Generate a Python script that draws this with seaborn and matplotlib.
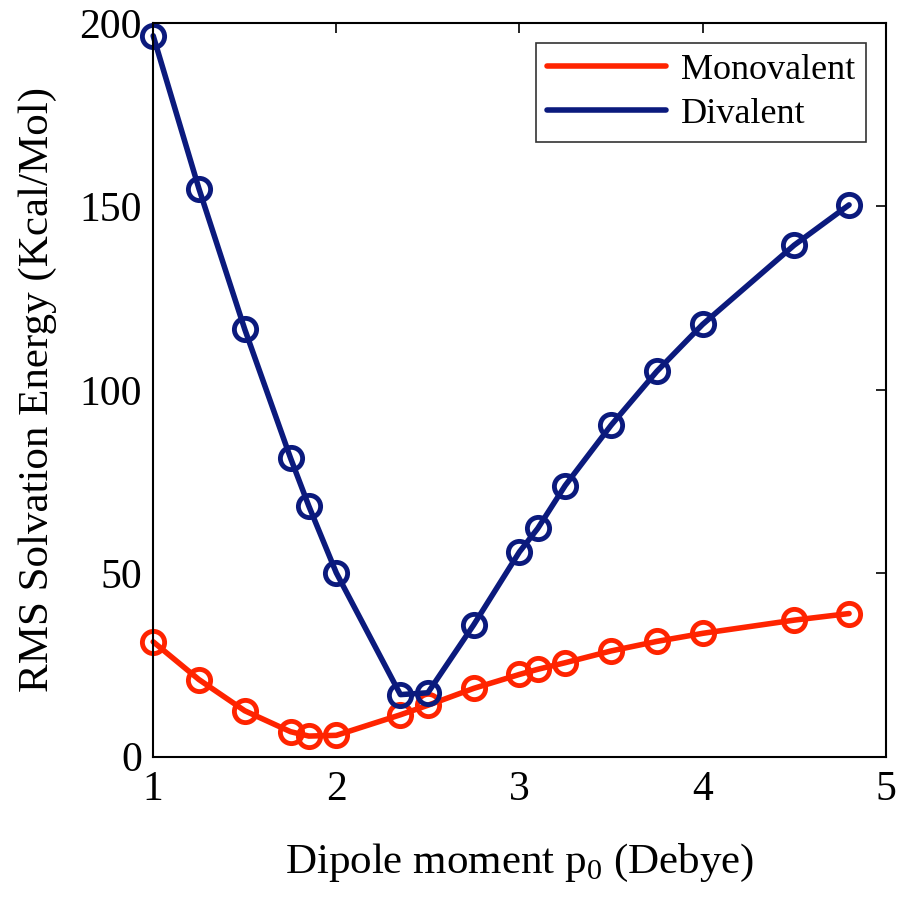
import pandas as pd
import matplotlib
matplotlib.use('Agg')
import matplotlib.pyplot as plt
import seaborn as sns
from matplotlib.lines import Line2D

sns.set_style('white')
plt.rcParams['font.family'] = ['Liberation Serif', 'DejaVu Serif']
plt.rcParams['mathtext.fontset'] = 'custom'
plt.rcParams['mathtext.rm'] = 'Liberation Serif'
for k in ['text.color', 'axes.labelcolor', 'xtick.color', 'ytick.color']:
    plt.rcParams[k] = 'black'

# data
dipole = [1.0, 1.25, 1.5, 1.75, 1.85, 2.0, 2.35, 2.5, 2.75, 3.0, 3.1, 3.25,
          3.5, 3.75, 4.0, 4.5, 4.8]
monovalent = [31.3, 21.0, 12.5, 6.8, 5.6, 5.8, 11.4, 14.0, 18.6, 22.4, 23.8,
              25.6, 28.8, 31.4, 33.6, 37.2, 39.0]
divalent = [196.5, 154.8, 116.5, 81.4, 68.3, 50.1, 16.9, 17.4, 35.9, 55.8,
            62.2, 73.9, 90.3, 105.0, 117.8, 139.4, 150.4]
series_names = ['Monovalent', 'Divalent']
colors = {'Monovalent': '#ff2400', 'Divalent': '#0b1a7d'}

df = pd.DataFrame({'p0': dipole * 2,
                   'rms': monovalent + divalent,
                   'kind': ['Monovalent'] * len(dipole) + ['Divalent'] * len(dipole)})

f = plt.figure(figsize=(9.01, 9.16), dpi=100)
ax = f.add_axes([0.170, 0.174, 0.813, 0.801])

for name in series_names:
    c = colors[name]
    sns.lineplot(data=df[df['kind'] == name], x='p0', y='rms', ax=ax,
                 color=c, lw=4.0, marker='o', markersize=16,
                 mfc='none', mec=c, mew=3.5, clip_on=False)

ax.set_xlim(1, 5)
ax.set_ylim(0, 200)
ax.set_xticks([1, 2, 3, 4, 5])
ax.set_yticks([0, 50, 100, 150, 200])
ax.tick_params(direction='in', length=7, width=1.2, top=True, right=True,
               labelsize=30)
ax.tick_params(axis='y', pad=8)
ax.tick_params(axis='x', pad=10)
for s in ax.spines.values():
    s.set_linewidth(1.5)
    s.set_color('black')

ax.set_xlabel('Dipole moment p$_0$ (Debye)', fontsize=31, labelpad=24)
ax.set_ylabel('RMS Solvation Energy (Kcal/Mol)', fontsize=31, labelpad=16)

handles = [Line2D([], [], color=colors[n], lw=4.0) for n in series_names]
leg = ax.legend(handles, series_names, loc='upper right', fontsize=26,
                frameon=True, fancybox=False, edgecolor='black',
                handlelength=3.3, borderaxespad=0.55, labelspacing=0.3,
                handletextpad=0.4, borderpad=0.3)
leg.get_frame().set_linewidth(1.2)

f.savefig('out.png', dpi=100)
